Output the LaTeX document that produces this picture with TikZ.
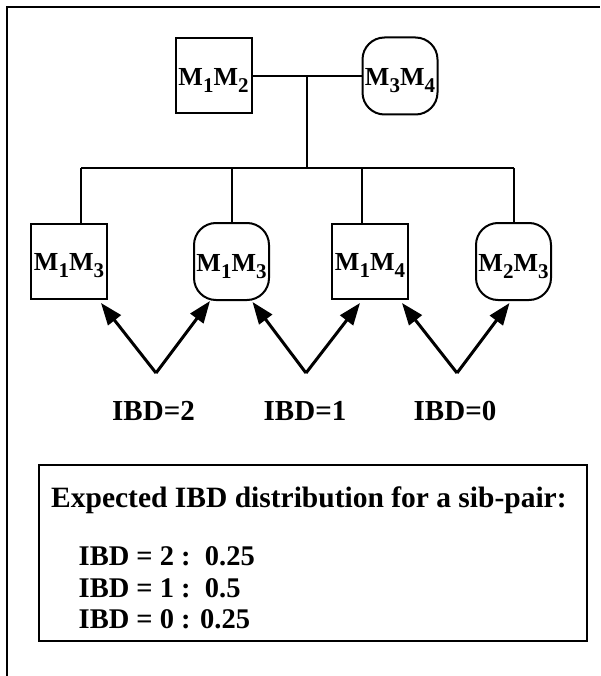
\documentclass[tikz,border=0pt]{standalone}
\usepackage{fontspec}
\setmainfont{Liberation Serif}
\usepackage{tikz}
\usetikzlibrary{arrows.meta,calc,positioning}
\newcommand{\lo}[1]{\raisebox{-7pt}{\fontsize{21}{21}\selectfont #1}}
\tikzset{
  sqnode/.style={rectangle, draw, line width=2pt, minimum width=76pt, minimum height=75pt, inner sep=0pt, text height=19pt, text depth=0pt, font=\fontsize{26}{30}\selectfont\bfseries},
  rdnode/.style={sqnode, rounded corners=22pt, minimum width=75pt, minimum height=77pt},
  famline/.style={line width=2pt},
  ibdarrow/.style={line width=3pt, -{Triangle[length=22pt,width=16pt]}},
  ibdlabel/.style={inner sep=0pt, anchor=base, font=\fontsize{29}{33}\selectfont\bfseries},
  distbox/.style={draw, line width=2.2pt, minimum width=548pt, minimum height=176pt, inner sep=0pt},
  disttext/.style={inner sep=0pt, anchor=base west, font=\fontsize{28.5}{33}\selectfont\bfseries}
}
\begin{document}
\begin{tikzpicture}[x=1pt,y=-1pt]
\useasboundingbox (0,0) rectangle (600,676);
% frame
\draw[line width=2pt] (7,676) -- (7,7) -- (600,7);
% parents
\node[sqnode] (m12) at (213.5,76) {M\lo{1}M\lo{2}};
\node[rdnode] (m34) at (400,76) {M\lo{3}M\lo{4}};
\coordinate (mate) at (307,76);
\coordinate (sib) at (307,168);
\draw[famline] (m12) -- (m34);
\draw[famline] (mate) -- (sib);
% children
\node[sqnode] (c1) at (69,261) {M\lo{1}M\lo{3}};
\node[rdnode] (c2) at (231.5,261.5) {M\lo{1}M\lo{3}};
\node[sqnode] (c3) at (370,261) {M\lo{1}M\lo{4}};
\node[rdnode] (c4) at (513.5,261.5) {M\lo{2}M\lo{3}};
\coordinate (d1) at (81,168);
\coordinate (d2) at (232,168);
\coordinate (d3) at (362,168);
\coordinate (d4) at (513.5,168);
\draw[famline] (d1) -- (d4);
\draw[famline] (d1) -- (d1 |- c1.north);
\draw[famline] (d2) -- (d2 |- c2.north);
\draw[famline] (d3) -- (d3 |- c3.north);
\draw[famline] (d4) -- (d4 |- c4.north);
% IBD labels and arrows
\node[ibdlabel] (ibd2) at (153.5,420) {IBD=2};
\node[ibdlabel] (ibd1) at (305,420) {IBD=1};
\node[ibdlabel] (ibd0) at (455,420) {IBD=0};
\coordinate (v2) at (156,373);
\coordinate (v1) at (306,373);
\coordinate (v0) at (457,373);
\draw[ibdarrow] (v2) -- ([shift={(-7,3.5)}]c1.south east);
\draw[ibdarrow] (v2) -- ([shift={(17,0)}]c2.south west);
\draw[ibdarrow] (v1) -- ([shift={(-17.5,1)}]c2.south east);
\draw[ibdarrow] (v1) -- ([shift={(29,3.5)}]c3.south west);
\draw[ibdarrow] (v0) -- ([shift={(-7,3.5)}]c3.south east);
\draw[ibdarrow] (v0) -- ([shift={(34.5,2)}]c4.south west);
% expected distribution
\node[distbox] (dist) at (313.3,553) {};
\node[disttext, font=\fontsize{29.5}{33}\selectfont\bfseries] (title) at (51,507) {Expected IBD distribution for a sib-pair:};
\node[disttext] (p2) at (78.5,565) {IBD = 2 :~~0.25};
\node[disttext] (p1) at (78.5,597) {IBD = 1 :~~0.5};
\node[disttext] (p0) at (78.5,628) {IBD = 0 : 0.25};
\end{tikzpicture}
\end{document}
